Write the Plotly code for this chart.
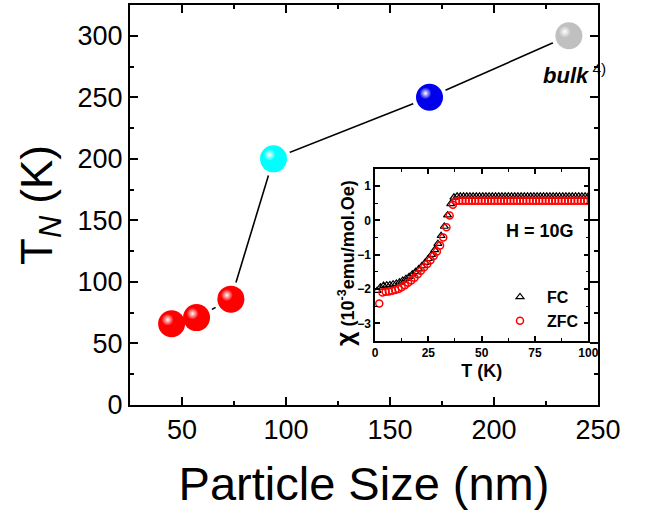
import plotly.graph_objects as go

# ---------------- data ----------------
size_nm = [45, 57, 73.5, 94, 169, 236]
tn_k = [66, 71, 86, 200, 250, 300]
sphere_colors = ["#ff0000", "#ff0000", "#ff0000", "#00ffff", "#0000ee", "#c0c0c0"]

t_zfc = [2.0, 3.5, 5.0, 6.5, 8.0, 9.5, 11.0, 12.5, 14.0, 15.5, 17.0, 18.5, 20.0, 21.5,
         23.0, 24.5, 26.0, 27.5, 29.0, 30.5, 32.0, 33.5, 35.0, 36.5, 38.0, 39.5, 41.0,
         42.5, 44.0, 45.5, 47.0, 48.5, 50.0, 51.5, 53.0, 54.5, 56.0, 57.5, 59.0, 60.5,
         62.0, 63.5, 65.0, 66.5, 68.0, 69.5, 71.0, 72.5, 74.0, 75.5, 77.0, 78.5, 80.0,
         81.5, 83.0, 84.5, 86.0, 87.5, 89.0, 90.5, 92.0, 93.5, 95.0, 96.5, 98.0, 99.5]
chi_zfc = [-2.42, -2.10, -2.08, -2.07, -2.05, -2.03, -2.00, -1.95, -1.89, -1.82, -1.75,
           -1.67, -1.57, -1.47, -1.37, -1.27, -1.16, -1.04, -0.91, -0.73, -0.50, -0.20,
           0.14, 0.45, 0.56, 0.57, 0.57, 0.57, 0.57, 0.57, 0.57, 0.57, 0.57, 0.57, 0.57,
           0.57, 0.57, 0.57, 0.57, 0.57, 0.57, 0.57, 0.57, 0.57, 0.57, 0.57, 0.57, 0.57,
           0.57, 0.57, 0.57, 0.57, 0.57, 0.57, 0.57, 0.57, 0.57, 0.57, 0.57, 0.57, 0.57,
           0.57, 0.57, 0.57, 0.57, 0.57]

t_fc = [1.0, 2.5, 4.0, 5.5, 7.0, 8.5, 10.0, 11.5, 13.0, 14.5, 16.0, 17.5, 19.0, 20.5,
        22.0, 23.5, 25.0, 26.5, 28.0, 29.5, 31.0, 32.5, 34.0, 35.5, 37.0, 38.5, 40.0,
        41.5, 43.0, 44.5, 46.0, 47.5, 49.0, 50.5, 52.0, 53.5, 55.0, 56.5, 58.0, 59.5,
        61.0, 62.5, 64.0, 65.5, 67.0, 68.5, 70.0, 71.5, 73.0, 74.5, 76.0, 77.5, 79.0,
        80.5, 82.0, 83.5, 85.0, 86.5, 88.0, 89.5, 91.0, 92.5, 94.0, 95.5, 97.0, 98.5, 100.0]
chi_fc = [-2.05, -1.95, -1.90, -1.89, -1.88, -1.86, -1.84, -1.80, -1.75, -1.70, -1.64,
          -1.57, -1.50, -1.42, -1.33, -1.23, -1.12, -1.00, -0.86, -0.68, -0.45, -0.18,
          0.15, 0.48, 0.67, 0.70, 0.70, 0.70, 0.70, 0.70, 0.70, 0.70, 0.70, 0.70, 0.70,
          0.70, 0.70, 0.70, 0.70, 0.70, 0.70, 0.70, 0.70, 0.70, 0.70, 0.70, 0.70, 0.70,
          0.70, 0.70, 0.70, 0.70, 0.70, 0.70, 0.70, 0.70, 0.70, 0.70, 0.70, 0.70, 0.70,
          0.70, 0.70, 0.70, 0.70, 0.70, 0.70]

FONT = "Arial, Liberation Sans, sans-serif"
W, H = 665, 510

# main axes pixel geometry
mx0, mx1, my0, my1 = 130, 598, 405, 5
x_range = [25, 250]
y_range = [0, 325]
px_x = (mx1 - mx0) / (x_range[1] - x_range[0])
px_y = (my0 - my1) / (y_range[1] - y_range[0])
hl_dx, hl_dy = 4, 4  # highlight offset (pixels)

fig = go.Figure()

fig.add_trace(go.Scatter(x=size_nm, y=tn_k, mode="lines",
                         line=dict(color="black", width=1.6),
                         showlegend=False, hoverinfo="skip"))
fig.add_trace(go.Scatter(x=size_nm, y=tn_k, mode="markers",
                         marker=dict(size=35, color="white"),
                         showlegend=False, hoverinfo="skip"))
fig.add_trace(go.Scatter(x=size_nm, y=tn_k, mode="markers",
                         marker=dict(size=27, color=sphere_colors, line=dict(width=0)),
                         showlegend=False))
fig.add_trace(go.Scatter(x=size_nm, y=tn_k, mode="markers", xaxis="x3", yaxis="y3",
                         marker=dict(size=12, color=sphere_colors, line=dict(width=0),
                                     gradient=dict(type="radial", color="white")),
                         showlegend=False, hoverinfo="skip"))

# inset
fig.add_trace(go.Scatter(x=t_fc, y=chi_fc, mode="markers", name="FC",
                         xaxis="x2", yaxis="y2",
                         marker=dict(symbol="triangle-up-open", size=7,
                                     color="black", line=dict(width=1.2))))
fig.add_trace(go.Scatter(x=t_zfc, y=chi_zfc, mode="markers", name="ZFC",
                         xaxis="x2", yaxis="y2",
                         marker=dict(symbol="circle-open", size=7,
                                     color="red", line=dict(width=1.5))))

main_ax = dict(showline=True, linewidth=2, linecolor="black", mirror="allticks",
               ticks="inside", ticklen=8, tickwidth=2, tickcolor="black",
               showgrid=False, zeroline=False, automargin=False,
               tickfont=dict(family=FONT, size=27, color="black"))
inset_ax = dict(showline=True, linewidth=1.5, linecolor="black", mirror="allticks",
                ticks="inside", ticklen=5, tickwidth=1.5, tickcolor="black",
                showgrid=False, zeroline=False, automargin=False,
                tickfont=dict(family=FONT, size=12, color="black", weight="bold"))

fig.update_layout(
    width=W, height=H,
    margin=dict(l=0, r=0, t=0, b=0, autoexpand=False),
    paper_bgcolor="white", plot_bgcolor="white",
    font=dict(family=FONT, color="black"),
    xaxis=dict(**main_ax, domain=[mx0 / W, mx1 / W], range=x_range, anchor="y",
               tick0=0, dtick=50,
               minor=dict(tick0=0, dtick=25, ticks="inside", ticklen=4, tickwidth=1.5,
                          tickcolor="black"),
               title=dict(text="Particle Size (nm)", font=dict(family=FONT, size=47),
                          standoff=23)),
    yaxis=dict(**main_ax, domain=[1 - my0 / H, 1 - my1 / H], range=y_range, anchor="x",
               tick0=0, dtick=50,
               minor=dict(tick0=0, dtick=25, ticks="inside", ticklen=4, tickwidth=1.5,
                          tickcolor="black")),
    xaxis3=dict(overlaying="x", visible=False, anchor="y3", automargin=False,
                range=[x_range[0] + hl_dx / px_x, x_range[1] + hl_dx / px_x]),
    yaxis3=dict(overlaying="y", visible=False, anchor="x3", automargin=False,
                range=[y_range[0] - hl_dy / px_y, y_range[1] - hl_dy / px_y]),
    xaxis2=dict(**inset_ax, domain=[375 / W, 588.3 / W], range=[0, 100], anchor="y2",
                tick0=0, dtick=25,
                minor=dict(tick0=0, dtick=12.5, ticks="inside", ticklen=3, tickwidth=1.2,
                           tickcolor="black"),
                title=dict(text="T (K)", font=dict(family=FONT, size=18, weight="bold"),
                           standoff=6)),
    yaxis2=dict(**inset_ax, domain=[1 - 340.5 / H, 1 - 168.8 / H], range=[-3.5, 1.5],
                anchor="x2", tick0=0, dtick=1,
                minor=dict(tick0=0, dtick=0.5, ticks="inside", ticklen=3, tickwidth=1.2,
                           tickcolor="black")),
    legend=dict(x=493 / W, y=1 - 280 / H, xanchor="left", yanchor="top",
                bgcolor="rgba(0,0,0,0)",
                font=dict(family=FONT, size=16, weight="bold", color="black"),
                tracegroupgap=0, itemwidth=44),
    showlegend=True,
)

fig.add_annotation(text="T<sub><i>N</i></sub> (K)", xref="paper", yref="paper",
                   x=40 / W, y=1 - 205 / H, xanchor="center", yanchor="middle",
                   textangle=-90, showarrow=False,
                   font=dict(family=FONT, size=44, color="black"))
fig.add_annotation(text="<span style='font-size:25px'>χ</span> (10<sup>-3</sup>emu/mol.Oe)",
                   xref="paper", yref="paper", x=345 / W, y=1 - 263 / H,
                   xanchor="center", yanchor="middle", textangle=-90,
                   showarrow=False,
                   font=dict(family=FONT, size=18, weight="bold", color="black"))
fig.add_annotation(text="H = 10G", xref="paper", yref="paper", x=540 / W, y=1 - 231 / H,
                   xanchor="center", yanchor="middle", showarrow=False,
                   font=dict(family=FONT, size=18, weight="bold", color="black"))
fig.add_annotation(text="<b><i>bulk</i></b><sup> 4)</sup>", x=size_nm[-1], y=tn_k[-1],
                   xref="x", yref="y", xshift=6, yshift=-38, showarrow=False,
                   font=dict(family=FONT, size=22, color="black"))

fig.write_html("out.html", config={"displayModeBar": False},
               post_script="document.body.style.margin='0';")
